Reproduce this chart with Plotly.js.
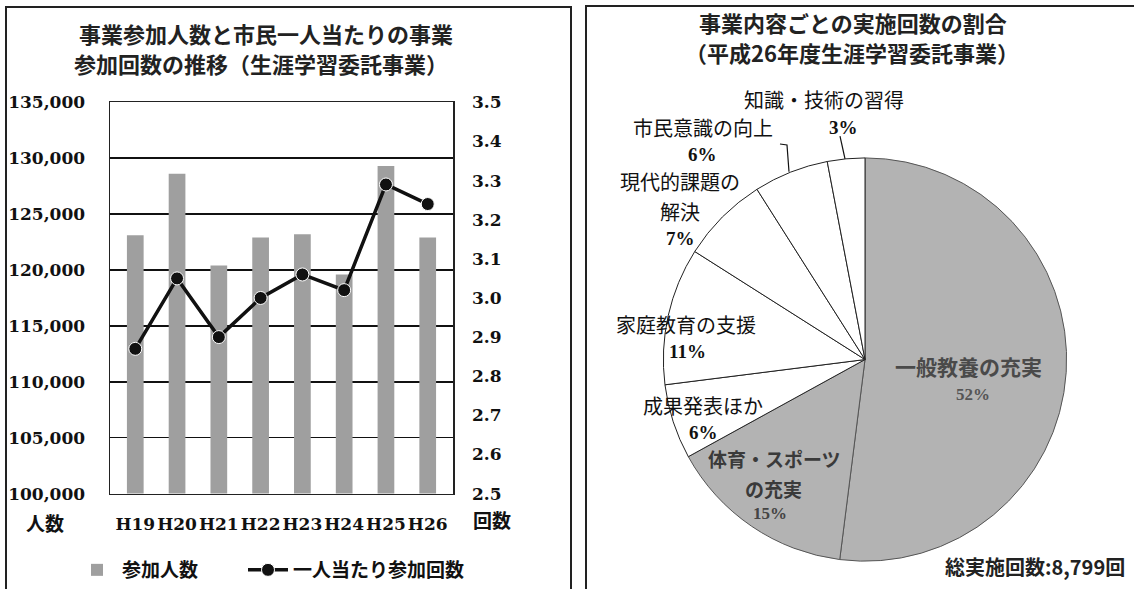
<!DOCTYPE html>
<html>
<head>
<meta charset="utf-8">
<script src="https://cdn.plot.ly/plotly-3.0.1.min.js"></script>
<style>
html,body{margin:0;padding:0;background:#fff;}
#chart{width:1134px;height:589px;}
</style>
</head>
<body>
<div id="chart"></div>
<script>
// ---- data ----
const years = ["H19","H20","H21","H22","H23","H24","H25","H26"];
const participants = [123100, 128600, 120400, 122900, 123200, 119600, 129300, 122900];
const perCapita = [2.87, 3.05, 2.90, 3.00, 3.06, 3.02, 3.29, 3.24];
const yTickVals = [100000,105000,110000,115000,120000,125000,130000,135000];
const y2TickVals = [2.5,2.6,2.7,2.8,2.9,3.0,3.1,3.2,3.3,3.4,3.5];

const pieLabels = ["一般教養の充実","体育・スポーツの充実","成果発表ほか","家庭教育の支援","現代的課題の解決","市民意識の向上","知識・技術の習得"];
const pieValues = [52, 15, 6, 11, 7, 6, 3];
const pieColors = ["#b3b3b3","#b3b3b3","#ffffff","#ffffff","#ffffff","#ffffff","#ffffff"];
const pieLineColors = ["#555","#555","#222","#222","#222","#222","#222"];

// ---- helpers (page pixel -> paper fraction) ----
const W = 1134, H = 589;
const px = x => x / W;
const py = y => 1 - y / H;

const JP = "Noto Sans CJK JP";
const SERIF = "DejaVu Serif";

const traces = [
  {
    type: "bar", x: years, y: participants, name: "参加人数",
    marker: {color: "#9f9f9f"}, xaxis: "x", yaxis: "y",
    hoverinfo: "x+y", legend: "legend"
  },
  {
    type: "scatter", mode: "lines+markers", x: years, y: perCapita,
    name: "一人当たり参加回数", xaxis: "x", yaxis: "y2",
    line: {color: "#111", width: 3.5},
    marker: {color: "#111", size: 13, line: {color: "#fff", width: 1}},
    legend: "legend2"
  },
  {
    type: "pie", labels: pieLabels, values: pieValues, sort: false,
    direction: "clockwise", rotation: 0,
    marker: {colors: pieColors, line: {color: pieLineColors, width: 1}},
    textinfo: "none", hoverinfo: "label+percent", showlegend: false,
    domain: {x: [px(662), px(1068)], y: [py(565), py(159)]}
  }
];

function ann(text, x, y, font, extra) {
  return Object.assign({
    text: text, x: px(x), y: py(y), xref: "paper", yref: "paper",
    showarrow: false, xanchor: "center", yanchor: "middle",
    font: Object.assign({family: JP, size: 20, color: "#111"}, font || {})
  }, extra || {});
}

const titleFont = {size: 22, weight: "bold", color: "#222"};
const pctFont = {size: 19, family: "Liberation Serif", weight: "bold"};

const annotations = [
  ann("事業参加人数と市民一人当たりの事業", 266, 33, titleFont),
  ann("参加回数の推移（生涯学習委託事業）", 261, 63, titleFont),
  ann("人数", 45, 526, {size: 19, weight: "bold"}),
  ann("回数", 492, 523, {size: 19, weight: "bold"}),

  ann("事業内容ごとの実施回数の割合", 853, 22, titleFont),
  ann("（平成26年度生涯学習委託事業）", 852, 52, titleFont),

  ann("一般教養の充実", 968, 368, {size: 21, color: "#4a4a4a", weight: "bold"}),
  ann("52%", 973, 397, {size: 17, family: "Liberation Serif", color: "#555", weight: "bold"}),
  ann("体育・スポーツ", 774, 462, {size: 19, color: "#3a3a3a", weight: "bold"}),
  ann("の充実", 773, 492, {size: 19, color: "#3a3a3a", weight: "bold"}),
  ann("15%", 770, 517, {size: 17, family: "Liberation Serif", color: "#444", weight: "bold"}),

  ann("成果発表ほか", 703, 408),
  ann("6%", 703, 435, pctFont),
  ann("家庭教育の支援", 686, 327),
  ann("11%", 687, 354, pctFont),
  ann("現代的課題の", 680, 183),
  ann("解決", 680, 213),
  ann("7%", 680, 240, pctFont),
  ann("市民意識の向上", 703, 128),
  ann("6%", 702, 156, pctFont),
  ann("知識・技術の習得", 824, 100),
  ann("3%", 843, 128, pctFont),

  ann("総実施回数:8,799回", 1127, 570, {size: 20, color: "#222", weight: "bold"}, {xanchor: "right"})
];

const shapes = [
  // panel frames
  {type: "rect", xref: "paper", yref: "paper", x0: px(6), x1: px(571), y0: py(600), y1: py(7),
   line: {color: "#222", width: 2}},
  {type: "rect", xref: "paper", yref: "paper", x0: px(586), x1: px(1150), y0: py(600), y1: py(6),
   line: {color: "#222", width: 2}},
  // leader lines
  {type: "path", xref: "paper", yref: "paper",
   path: `M ${px(780)} ${py(145)} L ${px(787)} ${py(146)} L ${px(789)} ${py(173)}`,
   line: {color: "#111", width: 1.2}},
  {type: "line", xref: "paper", yref: "paper", x0: px(840), y0: py(137), x1: px(845), y1: py(160),
   line: {color: "#111", width: 1.2}}
];

const tickFont = {family: SERIF, size: 17, color: "#111", weight: "bold"};
const legendFont = {family: JP, size: 19, color: "#111", weight: "bold"};

const layout = {
  width: W, height: H,
  margin: {l: 0, r: 0, t: 0, b: 0},
  paper_bgcolor: "#fff", plot_bgcolor: "#fff",
  bargap: 0.6,
  showlegend: true,
  legend: {
    orientation: "h", x: px(72), y: py(574), xanchor: "left", yanchor: "middle",
    font: legendFont, itemwidth: 40, bgcolor: "rgba(0,0,0,0)"
  },
  legend2: {
    orientation: "h", x: px(243), y: py(574), xanchor: "left", yanchor: "middle",
    font: legendFont, itemwidth: 40, bgcolor: "rgba(0,0,0,0)"
  },
  xaxis: {
    domain: [px(110), px(453)], anchor: "y",
    showline: true, linecolor: "#222", linewidth: 1.5, mirror: true,
    ticks: "", tickfont: tickFont, tickangle: 0,
    ticklabelstandoff: 14, showgrid: false, fixedrange: true
  },
  yaxis: {
    domain: [py(497), py(103)], anchor: "x",
    range: [100000, 135000], tickvals: yTickVals, tickformat: ",d",
    showline: true, linecolor: "#222", linewidth: 1.5, mirror: true,
    showgrid: true, gridcolor: "#111", gridwidth: 1.5,
    ticks: "", tickfont: tickFont, ticklabelstandoff: 20, zeroline: false
  },
  yaxis2: {
    overlaying: "y", side: "right", anchor: "x",
    range: [2.5, 3.5], tickvals: y2TickVals, tickformat: ".1f",
    showgrid: false, showline: false, zeroline: false,
    ticks: "", tickfont: tickFont, ticklabelstandoff: 18
  },
  annotations: annotations,
  shapes: shapes
};

Plotly.newPlot("chart", traces, layout, {displayModeBar: false, staticPlot: true});
</script>
</body>
</html>
